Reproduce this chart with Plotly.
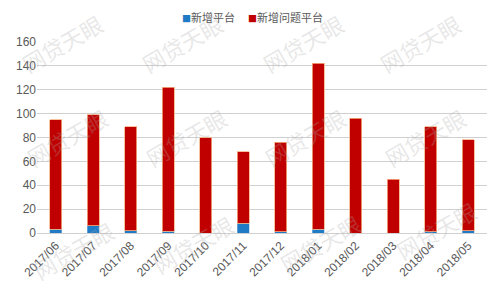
import plotly.graph_objects as go

months = ["2017/06", "2017/07", "2017/08", "2017/09", "2017/10", "2017/11",
          "2017/12", "2018/01", "2018/02", "2018/03", "2018/04", "2018/05"]
new_platforms = [3, 6, 2, 1.5, 0, 8, 1, 3, 0, 0, 1, 2]
totals = [95, 99, 89, 122, 80, 68, 76, 142, 96, 45, 89, 78]
new_problem = [t - n for t, n in zip(totals, new_platforms)]
y_ticks = [0, 20, 40, 60, 80, 100, 120, 140, 160]
series_names = ["新增平台", "新增问题平台"]
series_colors = ["#1F7BC6", "#C00000"]

fig = go.Figure()
fig.add_bar(x=months, y=new_platforms, name=series_names[0],
            marker=dict(color=series_colors[0], line=dict(color="#9DC3E6", width=0.5)))
fig.add_bar(x=months, y=new_problem, name=series_names[1],
            marker=dict(color=series_colors[1], line=dict(color="#F4B183", width=0.8)))

# plot-area pixel box
L, R, T, B = 37, 487, 41.7, 235

# watermark (pixel positions of text centres in the 499x291 page)
wm = [(62, 43), (182, 43), (303, 43), (420, 43),
      (67, 138), (186, 138), (305, 138), (425, 138),
      (73, 252), (193, 246), (320, 245), (436, 232)]
for (px, py) in wm:
    fig.add_annotation(x=(px - L) / (R - L), y=(B - py) / (B - T),
                       xref="paper", yref="paper", xanchor="center", yanchor="middle",
                       text="网贷天眼", showarrow=False, textangle=-30,
                       font=dict(family="Noto Sans CJK SC", size=22,
                                 color="rgba(170,170,170,0.28)"))

# legend drawn as text
leg_x = [180, 246]
for name, col, lx in zip(series_names, series_colors, leg_x):
    fig.add_annotation(x=(lx - L) / (R - L), y=(B - 16) / (B - T),
                       xref="paper", yref="paper", xanchor="left", yanchor="middle",
                       text=f"<span style='color:{col};font-size:9px'>■</span>{name}",
                       showarrow=False,
                       font=dict(family="Noto Sans CJK SC", size=11, color="#595959"))

fig.update_layout(
    width=499, height=291,
    margin=dict(l=L, r=499 - R, t=T, b=291 - B),
    paper_bgcolor="white", plot_bgcolor="white",
    barmode="stack", bargap=0.68,
    showlegend=False,
    font=dict(family="Liberation Sans", color="#595959"),
)
fig.update_xaxes(tickangle=-45, tickfont=dict(size=12, color="#595959", family="Liberation Sans"),
                 showgrid=False, showline=True, linecolor="#D0D0D0", linewidth=1, ticks="")
fig.update_yaxes(range=[0, 160], tickvals=y_ticks, showgrid=True, gridcolor="#D0D0D0",
                 gridwidth=1, zeroline=False, showline=False,
                 tickfont=dict(size=12, color="#595959", family="Liberation Sans"), ticks="")

fig.write_html("out.html")
